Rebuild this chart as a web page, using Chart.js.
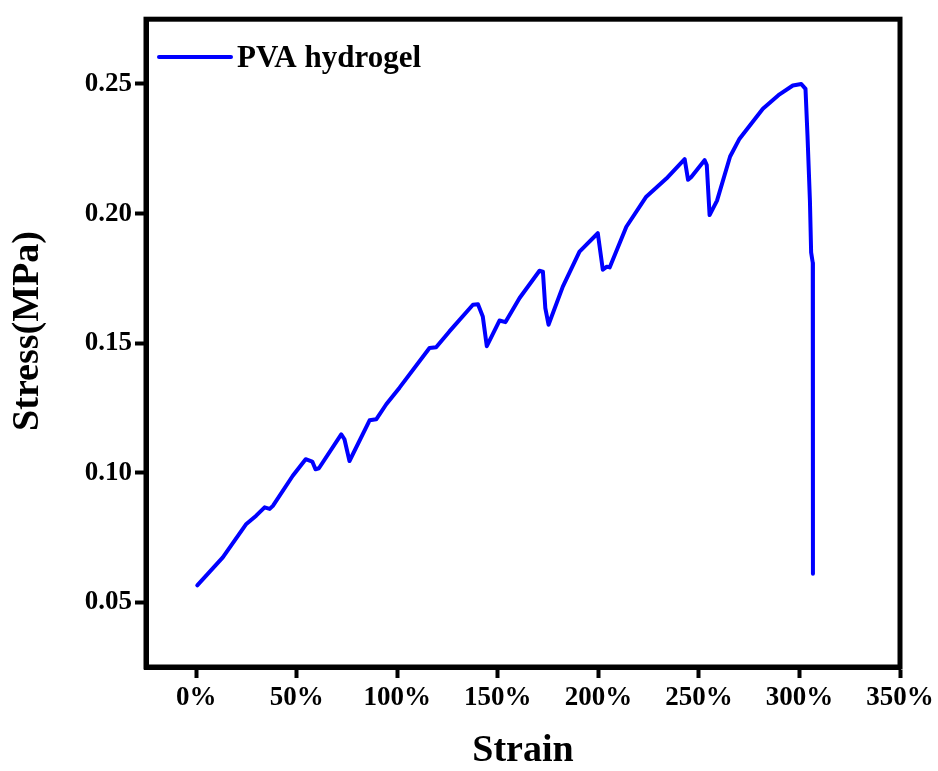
<!DOCTYPE html>
<html>
<head>
<meta charset="utf-8">
<script src="https://cdn.jsdelivr.net/npm/chart.js@4/dist/chart.umd.min.js"></script>
<style>
  body { margin: 0; background: #fff; }
  canvas { display: block; }
</style>
</head>
<body>
<canvas id="stressChart" width="938" height="771"></canvas>
<script>
// strain (%) and stress (MPa)
const strain = [0.5, 13.2, 24.9, 29.8, 34.0, 36.5, 38.1, 48.0, 54.4, 57.7, 59.3, 61.0,
  72.1, 73.7, 76.2, 86.2, 89.5, 94.5, 101.1, 116.0, 119.3, 125.9, 137.6, 140.1,
  142.5, 144.5, 150.8, 153.8, 160.8, 170.7, 172.4, 173.6, 175.2, 182.3, 190.6,
  199.7, 202.2, 204.2, 205.6, 213.9, 223.8, 233.8, 242.9, 244.6, 246.2, 252.8,
  253.9, 255.3, 259.0, 265.5, 270.2, 281.8, 290.1, 296.7, 300.9, 303.0, 304.0,
  305.2, 305.8, 306.6, 306.7];
const stress = [0.0565, 0.0673, 0.0802, 0.0834, 0.0866, 0.0860, 0.0872, 0.0988, 0.1052, 0.1043, 0.1013, 0.1017,
  0.1148, 0.1129, 0.1045, 0.1202, 0.1206, 0.1264, 0.1328, 0.1481, 0.1484, 0.1545, 0.1648, 0.1650,
  0.1603, 0.1488, 0.1587, 0.1581, 0.1674, 0.1779, 0.1776, 0.1635, 0.1571, 0.1718, 0.1853,
  0.1924, 0.1783, 0.1795, 0.1792, 0.1949, 0.2065, 0.2135, 0.2210, 0.2130, 0.2141, 0.2206,
  0.2187, 0.1994, 0.2050, 0.2220, 0.2289, 0.2404, 0.2460, 0.2494, 0.2500, 0.2481, 0.2300,
  0.2050, 0.1850, 0.1810, 0.0610];

const xTicks = [0, 50, 100, 150, 200, 250, 300, 350];
const yTicks = [0.05, 0.10, 0.15, 0.20, 0.25];
const seriesName = 'PVA hydrogel';
const yTitle = 'Stress(MPa)';

const serif = "'Liberation Serif', 'Times New Roman', serif";

// frame round the plot, y title and the legend in the top-left corner
const framePlugin = {
  id: 'frame',
  afterDraw(chart) {
    const { ctx, chartArea: a } = chart;
    ctx.save();
    ctx.strokeStyle = '#000';
    ctx.lineWidth = 5;
    ctx.lineJoin = 'miter';
    ctx.strokeRect(a.left, a.top, a.right - a.left, a.bottom - a.top);

    ctx.save();
    ctx.translate(28, 331);
    ctx.rotate(-Math.PI / 2);
    ctx.fillStyle = '#000';
    ctx.font = `bold 38px ${serif}`;
    ctx.textAlign = 'center';
    ctx.textBaseline = 'middle';
    ctx.fillText(yTitle, 0, 0);
    ctx.restore();

    const ds = chart.data.datasets[0];
    ctx.strokeStyle = ds.borderColor;
    ctx.lineWidth = 4;
    ctx.lineCap = 'round';
    ctx.beginPath();
    ctx.moveTo(a.left + 13, 57);
    ctx.lineTo(a.left + 85, 57);
    ctx.stroke();
    ctx.fillStyle = '#000';
    ctx.font = `bold 31px ${serif}`;
    ctx.textBaseline = 'alphabetic';
    ctx.fillText(ds.label, a.left + 91, 67);
    ctx.restore();
  }
};

new Chart(document.getElementById('stressChart'), {
  type: 'line',
  data: {
    datasets: [{
      label: seriesName,
      data: strain.map((s, i) => ({ x: s, y: stress[i] })),
      borderColor: '#0000ff',
      borderWidth: 4,
      pointRadius: 0,
      tension: 0,
      borderJoinStyle: 'round',
      borderCapStyle: 'round'
    }]
  },
  options: {
    responsive: false,
    animation: false,
    devicePixelRatio: 1,
    layout: { padding: { top: 17, right: 38, left: 0, bottom: 0 } },
    plugins: { legend: { display: false }, tooltip: { enabled: false } },
    scales: {
      x: {
        type: 'linear',
        min: -25,
        max: 350,
        afterBuildTicks: s => { s.ticks = xTicks.map(v => ({ value: v })); },
        afterFit: s => { s.height = 104; },
        ticks: {
          callback: v => v + '%',
          color: '#000',
          font: { family: serif, weight: 'bold', size: 27 },
          padding: 4,
          maxRotation: 0,
          autoSkip: false
        },
        grid: { drawOnChartArea: false, drawTicks: true, tickLength: 11, tickWidth: 4, tickColor: '#000' },
        border: { display: true, color: '#000', width: 5 },
        title: {
          display: true,
          text: 'Strain',
          color: '#000',
          font: { family: serif, weight: 'bold', size: 38, lineHeight: 1 },
          padding: { top: 0, bottom: 1 }
        }
      },
      y: {
        type: 'linear',
        min: 0.025,
        max: 0.275,
        afterBuildTicks: s => { s.ticks = yTicks.map(v => ({ value: v })); },
        afterFit: s => { s.width = 146; },
        ticks: {
          callback: v => v.toFixed(2),
          color: '#000',
          font: { family: serif, weight: 'bold', size: 27 },
          padding: 3
        },
        grid: { drawOnChartArea: false, drawTicks: true, tickLength: 11, tickWidth: 4, tickColor: '#000' },
        border: { display: true, color: '#000', width: 5 }
      }
    }
  },
  plugins: [framePlugin]
});
</script>
</body>
</html>
